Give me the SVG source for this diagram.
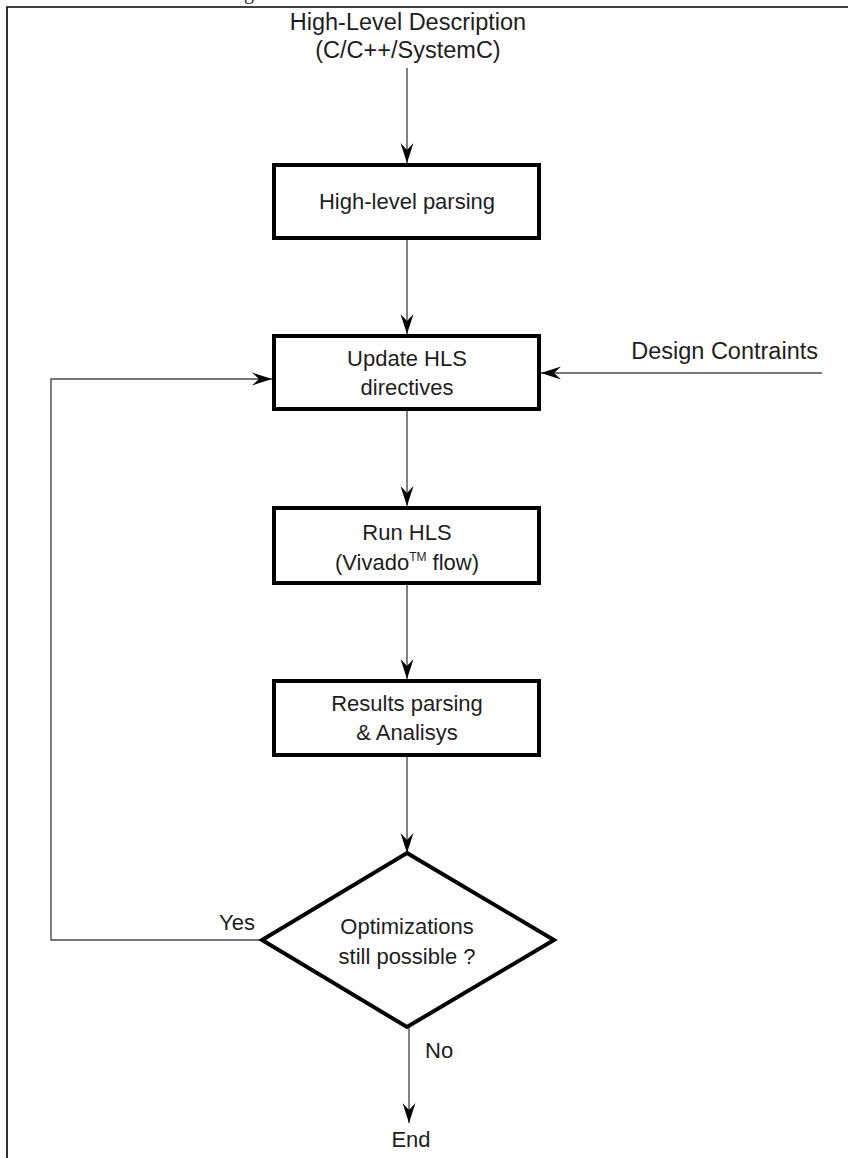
<svg xmlns="http://www.w3.org/2000/svg" width="848" height="1158" viewBox="0 0 848 1158">
  <style>
    .t { font-family: "Liberation Sans", Arial, sans-serif; font-size: 22px; fill: #1e1e1e; }
    .c { text-anchor: middle; }
    .big { font-size: 23.5px; }
    .box { fill: #ffffff; stroke: #000000; stroke-width: 4; }
    .wire { fill: none; stroke: #4a4a4a; stroke-width: 1.4; }
    .frame { fill: none; stroke: #000000; stroke-width: 1.6; }
  </style>
  <defs>
    <marker id="arrow" markerUnits="userSpaceOnUse" markerWidth="24" markerHeight="16" viewBox="-21 -8 22 16" refX="0" refY="0" orient="auto">
      <path d="M0,0 L-20,-6.5 L-13,0 L-20,6.5 Z" fill="#000000"/>
    </marker>
  </defs>

  <rect width="848" height="1158" fill="#ffffff"/>

  <!-- page frame and clipped caption glyph above it -->
  <g id="frame">
    <path class="frame" d="M7,1158 V7 H848"/>
    <text x="244" y="-1" font-family="Liberation Serif, serif" font-size="20" fill="#1e1e1e">g</text>
  </g>

  <!-- connectors -->
  <g id="connectors">
    <line class="wire" x1="407" y1="68" x2="407" y2="163" marker-end="url(#arrow)"/>
    <line class="wire" x1="407" y1="240" x2="407" y2="334" marker-end="url(#arrow)"/>
    <line class="wire" x1="407" y1="411" x2="407" y2="506" marker-end="url(#arrow)"/>
    <line class="wire" x1="407" y1="585" x2="407" y2="679" marker-end="url(#arrow)"/>
    <line class="wire" x1="407" y1="757" x2="407" y2="853" marker-end="url(#arrow)"/>
    <line class="wire" x1="409" y1="1027" x2="409" y2="1123" marker-end="url(#arrow)"/>
    <polyline class="wire" points="262,940 51,940 51,379 272,379" marker-end="url(#arrow)"/>
    <line class="wire" x1="822" y1="373" x2="541" y2="373" marker-end="url(#arrow)"/>
  </g>

  <g id="input">
    <text class="t c big" x="408" y="30">High-Level Description</text>
    <text class="t c big" x="408" y="58">(C/C++/SystemC)</text>
  </g>

  <g id="parsing">
    <rect class="box" x="274" y="165" width="265" height="73"/>
    <text class="t c" x="407" y="209">High-level parsing</text>
  </g>

  <g id="directives">
    <rect class="box" x="274" y="336" width="265" height="73"/>
    <text class="t c" x="407" y="366">Update HLS</text>
    <text class="t c" x="407" y="395">directives</text>
  </g>

  <g id="constraints">
    <text class="t big" x="818" y="359" text-anchor="end">Design Contraints</text>
  </g>

  <g id="run-hls">
    <rect class="box" x="274" y="508" width="265" height="75"/>
    <text class="t c" x="407" y="540">Run HLS</text>
    <text class="t c" x="407" y="570">(Vivado<tspan font-size="12" dy="-9">TM</tspan><tspan dy="9"> flow)</tspan></text>
  </g>

  <g id="results">
    <rect class="box" x="274" y="681" width="265" height="74"/>
    <text class="t c" x="407" y="711">Results parsing</text>
    <text class="t c" x="407" y="740">&amp; Analisys</text>
  </g>

  <g id="decision">
    <polygon class="box" points="407,853 554,940 407,1027 262,940"/>
    <text class="t c" x="407" y="934">Optimizations</text>
    <text class="t c" x="407" y="964">still possible ?</text>
    <text class="t" x="219" y="930">Yes</text>
    <text class="t" x="425" y="1058">No</text>
  </g>

  <g id="end">
    <text class="t c" x="411" y="1147">End</text>
  </g>
</svg>
